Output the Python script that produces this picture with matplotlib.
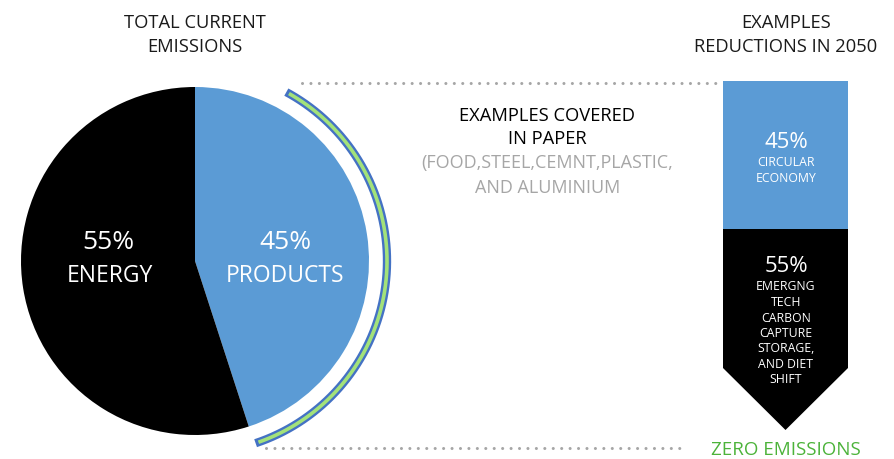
import numpy as np
import matplotlib
matplotlib.use("Agg")
import matplotlib.pyplot as plt
from matplotlib.patches import Polygon, Rectangle

plt.rcParams['font.family'] = ['Open Sans', 'DejaVu Sans']

# ---- data ----
pie_labels = ["ENERGY", "PRODUCTS"]
pie_values = [55, 45]
pie_colors = ["#000000", "#5B9BD5"]
bar_labels = ["CIRCULAR\nECONOMY", "EMERGNG\nTECH\nCARBON\nCAPTURE\nSTORAGE,\nAND DIET\nSHIFT"]
bar_values = [45, 55]

W, H = 895, 459
fig = plt.figure(figsize=(W / 100, H / 100), dpi=100)
ax = fig.add_axes([0, 0, 1, 1])

def Y(y):
    return H - y

# pie (products first, clockwise from top)
cx, cy, R = 195, Y(261), 174
ax.pie(pie_values[::-1], colors=pie_colors[::-1], startangle=90, counterclock=False,
       center=(cx, cy), radius=R, frame=True,
       wedgeprops=dict(linewidth=0))

# arc bracket around products slice
r_arc = 192
th = np.radians(np.linspace(-71.6, 61.6, 300))
ax.plot(cx + r_arc * np.cos(th), cy + r_arc * np.sin(th), color="#4472C4", lw=6.0,
        solid_capstyle="butt", zorder=3)
th2 = np.radians(np.linspace(-70.7, 60.7, 300))
ax.plot(cx + r_arc * np.cos(th2), cy + r_arc * np.sin(th2), color="#A3E27A", lw=2.6,
        solid_capstyle="butt", zorder=4)

# dotted guide lines
ax.plot([302, 716], [Y(83), Y(83)], color="#A6A6A6", lw=2.2, linestyle=(0, (0.01, 2.75)),
        dash_capstyle="round", zorder=2)
ax.plot([266, 680], [Y(448), Y(448)], color="#A6A6A6", lw=2.2, linestyle=(0, (0.01, 2.75)),
        dash_capstyle="round", zorder=2)

# reduction arrow bar
x0, x1, xm = 723, 848, 785.5
ax.add_patch(Rectangle((x0, Y(229)), x1 - x0, 229 - 81, facecolor=pie_colors[1],
                       edgecolor="none", zorder=2))
ax.add_patch(Polygon([(x0, Y(229)), (x1, Y(229)), (x1, Y(368)), (xm, Y(430)), (x0, Y(368))],
                     closed=True, facecolor="#000000", edgecolor="none", zorder=2))

# texts
dark = "#1a1a1a"
fs = 13.2
ax.text(195, Y(23), "TOTAL CURRENT", ha="center", va="center", fontsize=fs, color=dark)
ax.text(195, Y(47), "EMISSIONS", ha="center", va="center", fontsize=fs, color=dark)
ax.text(786, Y(23), "EXAMPLES", ha="center", va="center", fontsize=fs, color=dark)
ax.text(786, Y(47), "REDUCTIONS IN 2050", ha="center", va="center", fontsize=fs, color=dark)

ax.text(547, Y(116), "EXAMPLES COVERED", ha="center", va="center", fontsize=fs, color="#000000")
ax.text(547, Y(139), "IN PAPER", ha="center", va="center", fontsize=fs, color="#000000")
ax.text(547, Y(163), "(FOOD,STEEL,CEMNT,PLASTIC,", ha="center", va="center", fontsize=13,
        color="#A6A6A6")
ax.text(548, Y(188), "AND ALUMINIUM", ha="center", va="center", fontsize=13, color="#A6A6A6")

ax.text(108, Y(243), f"{pie_values[0]}%", ha="center", va="center", fontsize=19, color="white")
ax.text(110, Y(276), pie_labels[0], ha="center", va="center", fontsize=16.5, color="white")
ax.text(285, Y(243), f"{pie_values[1]}%", ha="center", va="center", fontsize=19, color="white")
ax.text(285, Y(276), pie_labels[1], ha="center", va="center", fontsize=16.5, color="white")

ax.text(786, Y(142), f"{bar_values[0]}%", ha="center", va="center", fontsize=16, color="white")
for i, ln in enumerate(bar_labels[0].split("\n")):
    ax.text(786, Y(163 + 15.5 * i), ln, ha="center", va="center", fontsize=8.8, color="white")
ax.text(786, Y(266), f"{bar_values[1]}%", ha="center", va="center", fontsize=16, color="white")
for i, ln in enumerate(bar_labels[1].split("\n")):
    ax.text(786, Y(287 + 15.5 * i), ln, ha="center", va="center", fontsize=8.8, color="white")

ax.text(786, Y(450), "ZERO EMISSIONS", ha="center", va="center", fontsize=13.5, color="#4CB33A")

ax.set_xlim(0, W)
ax.set_ylim(0, H)
ax.set_aspect("equal")
ax.axis("off")
fig.savefig("out.png", dpi=100)
